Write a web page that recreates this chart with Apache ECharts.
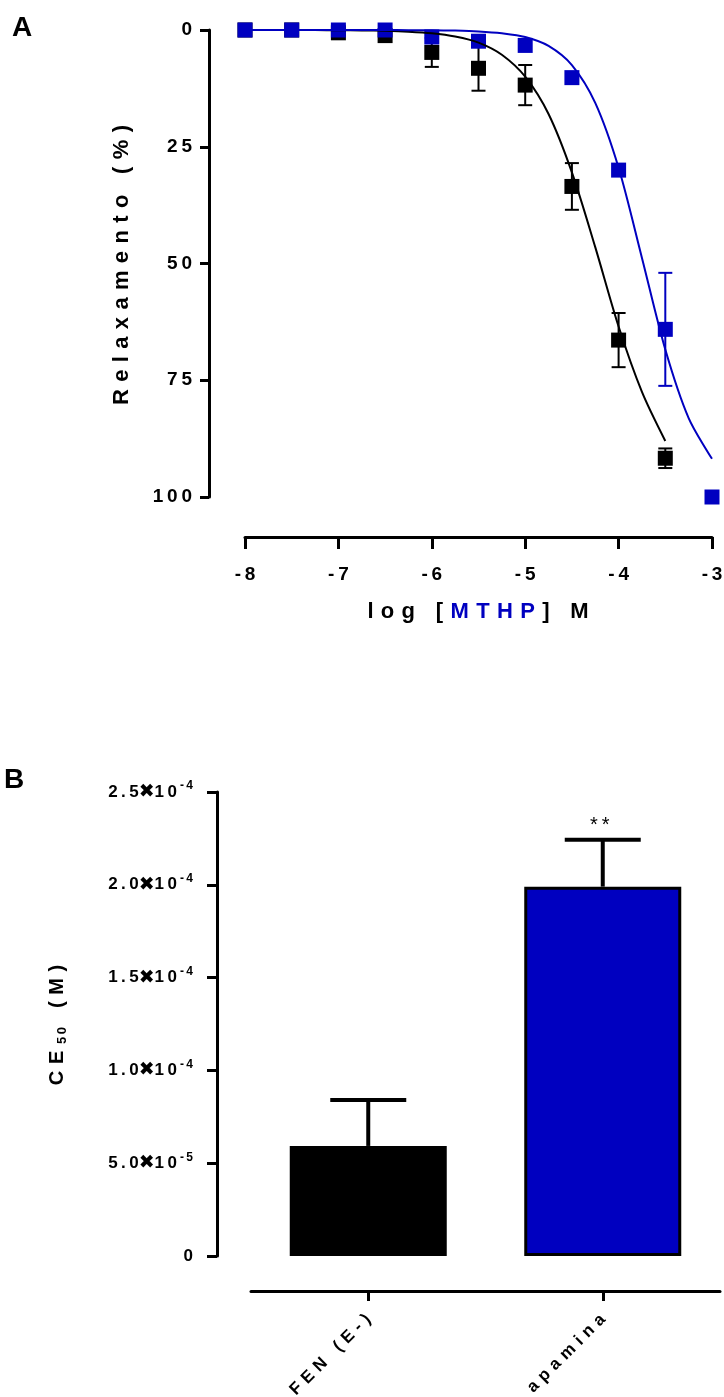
<!DOCTYPE html>
<html>
<head>
<meta charset="utf-8">
<script src="https://cdn.jsdelivr.net/npm/echarts@6/dist/echarts.min.js"></script>
<style>
  html, body { margin: 0; padding: 0; background: #fff; }
  #chart { width: 724px; height: 1397px; }
</style>
</head>
<body>
<div id="chart"></div>
<script>
// ---- panel A: relaxation vs log [MTHP] ----
const logConc = [-8, -7.5, -7, -6.5, -6, -5.5, -5, -4.5, -4, -3.5, -3];
const fenMean = [0, 0, 0.6, 1.2, 4.8, 8.2, 11.8, 33.5, 66.4, 91.7];
const fenSem  = [0, 0, 0, 0, 3.1, 4.8, 4.3, 5.0, 5.8, 2.1];
const apaMean = [0, 0, 0, 0, 1.5, 2.4, 3.3, 10.2, 30, 64.1, 100];
const apaSem  = [0, 0, 0, 0, 0, 0, 0, 0, 0, 12.1, 0];

// fitted curves (every 0.25 log unit)
const fitX   = [-8, -7.75, -7.5, -7.25, -7, -6.75, -6.5, -6.25, -6, -5.75, -5.5,
                -5.25, -5, -4.75, -4.5, -4.25, -4, -3.75, -3.5, -3.25, -3];
const fenFit = [0, 0.01, 0.01, 0.02, 0.05, 0.09, 0.18, 0.36, 0.7, 1.4, 2.7,
                5.3, 10, 18, 30.5, 46.5, 63.5, 77.5, 88];
const apaFit = [0, 0, 0, 0, 0, 0.005, 0.01, 0.03, 0.06, 0.13, 0.3,
                0.7, 1.5, 3.4, 7.5, 15.6, 29.5, 48.8, 68.4, 83.1, 91.8];

// ---- panel B: CE50 ----
const groups   = ['FEN (E-)', 'apamina'];
const ec50Mean = [5.93e-5, 1.99e-4];
const ec50Sem  = [2.47e-5, 2.53e-5];
const sigMarks = ['', '**'];

const BLUE = '#0000c0';
const FONT = '"Liberation Sans", Arial, sans-serif';
const GAP = '\u2004';
const THIN = '\u2009';

function spaced(s, gap){ return s.split('').join(gap || GAP); }

function pairs(xs, ys){ return ys.map((y, i) => [xs[i], y]); }
function triples(xs, ms, ss){ return ms.map((m, i) => [xs[i], m, ss[i]]); }

function errorBars(color, capHalf, lw, upOnly){
  return function(params, api){
    const x = api.value(0), m = api.value(1), s = api.value(2);
    if(!s) return null;
    const hi = api.coord([x, m + s]);
    const lo = api.coord([x, upOnly ? m : m - s]);
    const st = { stroke: color, lineWidth: lw };
    const kids = [
      { type: 'line', shape: { x1: hi[0], y1: hi[1], x2: lo[0], y2: lo[1] }, style: st },
      { type: 'line', shape: { x1: hi[0] - capHalf, y1: hi[1], x2: hi[0] + capHalf, y2: hi[1] }, style: st }
    ];
    if(!upOnly){
      kids.push({ type: 'line', shape: { x1: lo[0] - capHalf, y1: lo[1], x2: lo[0] + capHalf, y2: lo[1] }, style: st });
    }
    const mark = upOnly ? sigMarks[params.dataIndex] : '';
    if(mark){
      kids.push({ type: 'text', x: hi[0] - 3, y: hi[1] - 4,
        style: { text: spaced(mark, THIN), fill: '#000', font: '20px ' + FONT, align: 'center', verticalAlign: 'bottom' } });
    }
    return { type: 'group', children: kids };
  };
}

function sciLabel(v){
  if(v === 0) return '{n|0}';
  const e = Math.floor(Math.log10(v) + 1e-9);
  const m = (v / Math.pow(10, e)).toFixed(1);
  return '{n|' + spaced(m, THIN) + '}{x|\u2716}{n|' + spaced('10', THIN) + '}{s|' + spaced(String(e), THIN) + '}';
}

const axisLineStyle = { color: '#000', width: 3 };
const boldLabel = { color: '#000', fontFamily: FONT, fontWeight: 'bold' };

const chart = echarts.init(document.getElementById('chart'), null, { renderer: 'canvas' });

chart.setOption({
  animation: false,
  backgroundColor: '#fff',
  grid: [
    { left: 245, top: 30, width: 467, height: 467, outerBoundsMode: 'none', containLabel: false },
    { left: 251, top: 792, width: 469, height: 464, outerBoundsMode: 'none', containLabel: false }
  ],
  xAxis: [
    {
      type: 'value', gridIndex: 0, position: 'bottom', min: -8, max: -3, interval: 1, offset: 40,
      axisLine: { show: true, onZero: false, lineStyle: axisLineStyle },
      axisTick: { show: true, length: 12, lineStyle: axisLineStyle },
      axisLabel: Object.assign({ fontSize: 19, margin: 28, formatter: v => spaced(String(v), THIN) }, boldLabel),
      splitLine: { show: false }
    },
    {
      type: 'category', gridIndex: 1, position: 'bottom', data: groups, offset: 35,
      axisLine: { show: true, onZero: false, lineStyle: axisLineStyle },
      axisTick: { show: true, alignWithLabel: true, length: 10, lineStyle: axisLineStyle },
      axisLabel: Object.assign({ fontSize: 17, rotate: 45, margin: 26, formatter: v => spaced(v, GAP) }, boldLabel),
      splitLine: { show: false }
    }
  ],
  yAxis: [
    {
      type: 'value', gridIndex: 0, inverse: true, min: 0, max: 100, interval: 25, offset: 36,
      axisLine: { show: true, onZero: false, lineStyle: axisLineStyle },
      axisTick: { show: true, length: 9, lineStyle: axisLineStyle },
      axisLabel: Object.assign({ fontSize: 19, margin: 17, formatter: v => spaced(String(v), THIN) }, boldLabel),
      splitLine: { show: false }
    },
    {
      type: 'value', gridIndex: 1, min: 0, max: 2.5e-4, interval: 5e-5, offset: 34,
      axisLine: { show: true, onZero: false, lineStyle: axisLineStyle },
      axisTick: { show: true, length: 10, lineStyle: axisLineStyle },
      axisLabel: {
        margin: 24, formatter: sciLabel,
        rich: {
          n: { fontSize: 17, fontWeight: 'bold', fontFamily: FONT, color: '#000' },
          x: { fontSize: 19, fontFamily: '"DejaVu Sans"', color: '#000' },
          s: { fontSize: 12, fontWeight: 'bold', fontFamily: FONT, color: '#000', padding: [0, 0, 12, 3] }
        }
      },
      splitLine: { show: false }
    }
  ],
  series: [
    {
      type: 'line', xAxisIndex: 0, yAxisIndex: 0, data: pairs(fitX, fenFit),
      smooth: 0.3, showSymbol: false, clip: false, silent: true,
      lineStyle: { color: '#000', width: 2 }
    },
    {
      type: 'custom', xAxisIndex: 0, yAxisIndex: 0, data: triples(logConc, fenMean, fenSem),
      renderItem: errorBars('#000', 7, 2, false), encode: { x: 0, y: 1 }, clip: false, silent: true
    },
    {
      type: 'scatter', xAxisIndex: 0, yAxisIndex: 0, data: pairs(logConc, fenMean),
      symbol: 'rect', symbolSize: 15, clip: false, itemStyle: { color: '#000', opacity: 1 }
    },
    {
      type: 'line', xAxisIndex: 0, yAxisIndex: 0, data: pairs(fitX, apaFit),
      smooth: 0.3, showSymbol: false, clip: false, silent: true,
      lineStyle: { color: BLUE, width: 2 }
    },
    {
      type: 'custom', xAxisIndex: 0, yAxisIndex: 0, data: triples(logConc, apaMean, apaSem),
      renderItem: errorBars(BLUE, 7, 2, false), encode: { x: 0, y: 1 }, clip: false, silent: true
    },
    {
      type: 'scatter', xAxisIndex: 0, yAxisIndex: 0, data: pairs(logConc, apaMean),
      symbol: 'rect', symbolSize: 15, clip: false, itemStyle: { color: BLUE, opacity: 1 }
    },
    {
      type: 'bar', xAxisIndex: 1, yAxisIndex: 1, barWidth: 157,
      data: ec50Mean.map((v, i) => ({ value: v, itemStyle: { color: i === 0 ? '#000' : BLUE } })),
      itemStyle: { borderColor: '#000', borderWidth: 3 }
    },
    {
      type: 'custom', xAxisIndex: 1, yAxisIndex: 1, data: ec50Mean.map((v, i) => [i, v, ec50Sem[i]]),
      renderItem: errorBars('#000', 38, 4, true), encode: { x: 0, y: 1 }, clip: false, silent: true
    }
  ],
  graphic: [
    { type: 'text', left: 12, top: 14, style: { text: 'A', font: 'bold 28px ' + FONT, fill: '#000' } },
    { type: 'text', left: 4, top: 766, style: { text: 'B', font: 'bold 28px ' + FONT, fill: '#000' } },
    {
      type: 'text', x: 122, y: 265, rotation: Math.PI / 2,
      style: { text: spaced('Relaxamento (%)'), font: 'bold 22px ' + FONT, fill: '#000', align: 'center', verticalAlign: 'middle' }
    },
    {
      type: 'text', x: 478, y: 612,
      style: {
        text: '{k|' + spaced('log [') + GAP + '}{b|' + spaced('MTHP') + '}{k|' + GAP + spaced('] M') + '}',
        align: 'center', verticalAlign: 'middle',
        rich: {
          k: { fontSize: 22, fontWeight: 'bold', fontFamily: FONT, fill: '#000' },
          b: { fontSize: 22, fontWeight: 'bold', fontFamily: FONT, fill: BLUE }
        }
      }
    },
    {
      type: 'text', x: 57, y: 1025, rotation: Math.PI / 2,
      style: {
        text: '{a|' + spaced('CE') + GAP + '}{s|' + spaced('50', THIN) + '}{a|' + GAP + spaced(' (M)') + '}',
        align: 'center', verticalAlign: 'middle',
        rich: {
          a: { fontSize: 20, fontWeight: 'bold', fontFamily: FONT, fill: '#000' },
          s: { fontSize: 13, fontWeight: 'bold', fontFamily: FONT, fill: '#000', padding: [10, 0, 0, 0] }
        }
      }
    }
  ]
});
</script>
</body>
</html>
